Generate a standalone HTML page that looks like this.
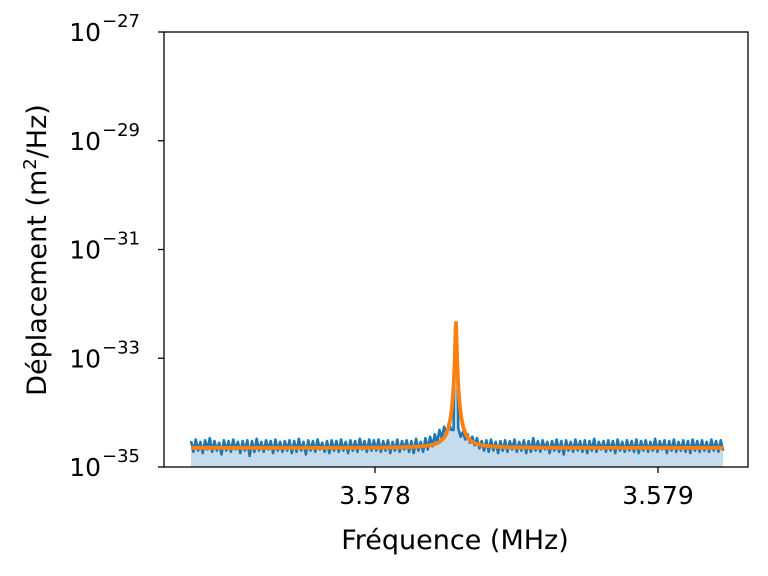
<!DOCTYPE html>
<html><head><meta charset="utf-8"><style>
html,body{margin:0;padding:0;background:#fff;}
svg{display:block;font-family:"DejaVu Sans","Liberation Sans",sans-serif;}
</style></head><body>
<svg id="chart" width="768" height="576" viewBox="0 0 768 576">
  <rect x="0" y="0" width="768" height="576" fill="#fff"/>
  <g id="plot"></g>
  <rect x="164" y="32" width="584" height="435" fill="none" stroke="#000" stroke-width="1.3"/>
  <g id="axes"></g>
  <text x="455" y="549" text-anchor="middle" font-size="27">Fréquence (MHz)</text>
  <text transform="translate(46,250) rotate(-90)" text-anchor="middle" font-size="27">Déplacement (m<tspan dy="-10" font-size="18">2</tspan><tspan dy="10">/Hz)</tspan></text>
</svg>
<script>
// data
const xTicks = [3.578, 3.579];
const xTickLabels = ["3.578", "3.579"];
const yTickExps = [-27, -29, -31, -33, -35];
const fStart = 3.57735, fEnd = 3.57923;
// noise floor values (x1e-35), uniformly spaced across fStart..fEnd
const noise = [
3.0,1.9,3.2,2.0,2.9,1.8,3.1,2.1,3.4,1.9,3.0,2.0,2.8,1.7,3.1,2.0,3.0,1.9,3.2,2.1,
2.9,1.8,3.0,2.0,3.1,1.6,3.0,1.9,3.3,2.0,2.9,1.9,3.1,2.1,3.0,1.8,3.2,2.0,2.9,1.9,
3.0,2.0,3.1,1.8,3.0,1.9,3.3,2.0,2.9,1.7,3.1,2.0,3.0,1.9,3.2,2.1,2.8,1.9,3.0,1.8,
3.1,2.0,3.0,1.9,3.2,2.0,2.9,1.8,3.1,2.0,3.0,1.9,3.3,2.1,3.0,1.9,3.2,2.0,3.1,2.0,
3.2,1.9,3.0,2.0,3.1,1.8,2.9,2.0,3.2,1.9,3.0,2.1,3.1,1.9,3.0,1.8,3.3,2.0,2.9,1.9,
3.4,2.1,3.6,2.4,4.0,2.8,4.8,3.4,5.5,4.0,6.5,4.8,4.8,4.0,5.2,3.6,4.4,3.2,4.0,2.8,3.6,2.5,3.4,2.2,
3.0,2.0,3.1,1.9,3.2,2.0,2.9,1.8,3.0,2.0,3.1,
1.9,3.0,2.1,3.2,1.9,2.9,2.0,3.1,1.8,
3.0,1.9,3.4,2.0,3.0,1.9,3.1,2.1,2.9,1.8,3.0,2.0,3.2,1.9,3.0,1.7,3.1,2.0,2.9,1.9,
3.2,2.0,3.0,1.9,3.1,1.8,3.0,2.0,3.3,1.9,2.9,2.1,3.0,1.9,3.1,2.0,3.0,1.8,3.2,2.0,
2.9,1.9,3.1,2.0,3.0,1.9,3.2,1.8,3.0,2.0,3.1,1.9,2.9,2.0,3.3,1.9,3.0,2.1,3.1,1.8,
3.0,2.0,3.2,1.9,2.9,2.0,3.1,1.9,3.0,1.8,3.2,2.0,3.0,1.9,3.1,2.0,2.9,1.9,3.2,2.0,
3.0,1.9,3.1,2.0];
// peak measurement points (MHz, value)
const peakF = [3.5782800,3.5782825,3.5782845,3.5782860,3.5782875,3.5782895,3.5782920];
const peakV = [5e-34,1.5e-33,3.2e-33,4.5e-33,3.2e-33,1.2e-33,4e-34];
// Lorentzian fit parameters: f0, amplitude, gamma, baseline
const fitF0 = [3.578286];
const fitA = [4.5e-33];
const fitGamma = [2.2e-6];
const fitB = [2.25e-35];

const X0=164,X1=748,Y0=32,Y1=467;
const xs = f => 375 + (f-3.578)*283000;
const ys = v => Y0 + (-27 - Math.log10(v)) * (Y1-Y0)/8;
const NS='http://www.w3.org/2000/svg';
function mk(tag, attrs, parent){const e=document.createElementNS(NS,tag);for(const k in attrs)e.setAttribute(k,attrs[k]);parent.appendChild(e);return e;}

let pts=[];
noise.forEach((v,i)=>{pts.push([fStart+(fEnd-fStart)*i/(noise.length-1), v*1e-35]);});
pts = pts.filter(p=>p[0]<peakF[0]||p[0]>peakF[peakF.length-1]);
peakF.forEach((f,i)=>pts.push([f,peakV[i]]));
pts.sort((a,b)=>a[0]-b[0]);
const plot=document.getElementById('plot');
let d=pts.map((p,i)=>(i?'L':'M')+xs(p[0]).toFixed(2)+','+ys(p[1]).toFixed(2)).join('');
const fill=mk('path',{d:d+'L'+xs(pts[pts.length-1][0]).toFixed(2)+','+Y1+'L'+xs(pts[0][0]).toFixed(2)+','+Y1+'Z',fill:'#c6dbec',stroke:'none'},plot);


const line=mk('path',{d:d,fill:'none',stroke:'#1f77b4','stroke-width':2.6,'stroke-linejoin':'round'},plot);



let fd='';
for(let i=0;i<=2000;i++){const f=fStart+(fEnd-fStart)*i/2000;const dx=(f-fitF0[0])/fitGamma[0];const v=fitA[0]/(1+dx*dx)+fitB[0];fd+=(i?'L':'M')+xs(f).toFixed(2)+','+ys(v).toFixed(2);}
const fit=mk('path',{d:fd,fill:'none',stroke:'#ff7f0e','stroke-width':3.8,'stroke-linejoin':'round'},plot);



const ax=document.getElementById('axes');
xTicks.forEach((t,i)=>{const x=xs(t);
 const tk=mk('line',{x1:x,x2:x,y1:Y1,y2:Y1+6,stroke:'#000','stroke-width':1.3},ax);
 
 
 const tl=mk('text',{x:x,y:Y1+37,'text-anchor':'middle','font-size':25},ax);tl.textContent=xTickLabels[i];
 
 
});
yTickExps.forEach(e=>{const y=ys(Math.pow(10,e));
 const tk=mk('line',{x1:X0-6,x2:X0,y1:y,y2:y,stroke:'#000','stroke-width':1.3},ax);
 
 
 const tl=mk('text',{x:101,y:y+9,'text-anchor':'end','font-size':25},ax);tl.textContent='10';
 
 
 const sp=mk('text',{x:102,y:y-5,'text-anchor':'start','font-size':18},ax);sp.textContent='\u2212'+Math.abs(e);
 
 
});
</script>
</body></html>
